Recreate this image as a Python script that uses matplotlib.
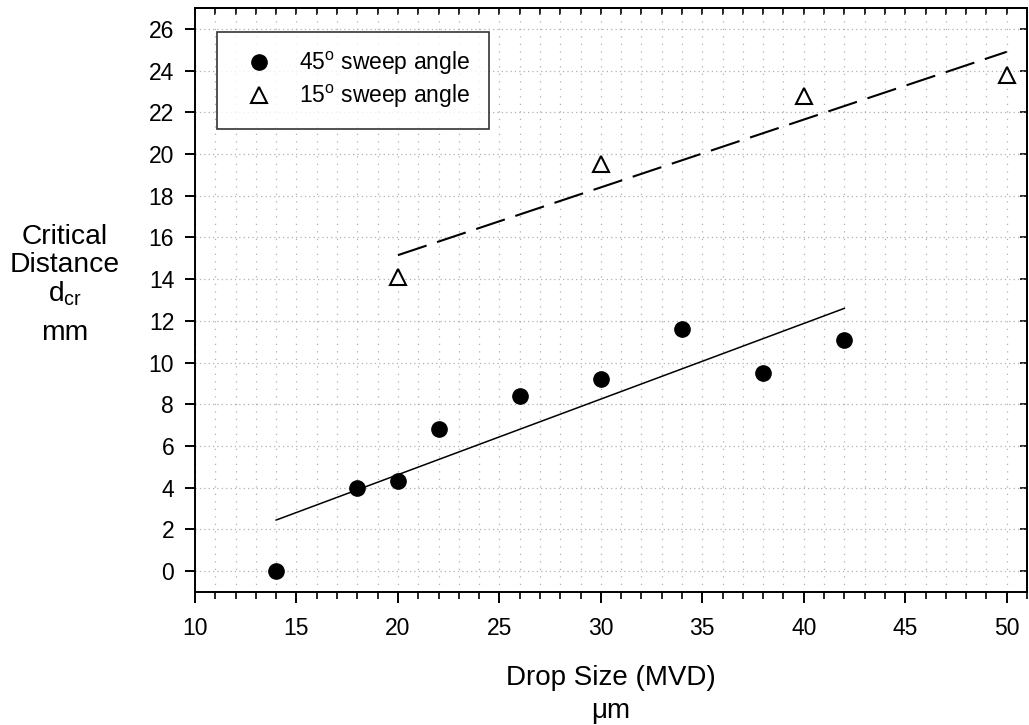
import matplotlib
matplotlib.use("Agg")
import matplotlib.pyplot as plt
from matplotlib.ticker import MultipleLocator

plt.rcParams["font.family"] = ["Liberation Sans", "DejaVu Sans"]
plt.rcParams["mathtext.fontset"] = "custom"
plt.rcParams["mathtext.rm"] = "Liberation Sans"

# 45 deg sweep angle data
drop_45 = [14, 18, 20, 22, 26, 30, 34, 38, 42]
dcr_45 = [0.0, 4.0, 4.3, 6.8, 8.4, 9.2, 11.6, 9.5, 11.1]
fit_45_x = [14, 42]
fit_45_y = [2.45, 12.6]

# 15 deg sweep angle data
drop_15 = [20, 30, 40, 50]
dcr_15 = [14.1, 19.5, 22.8, 23.8]
fit_15_x = [20, 50]
fit_15_y = [15.15, 24.9]

fig = plt.figure(figsize=(10.29, 7.25), dpi=100)
ax = fig.add_axes([195 / 1029, 1 - 592 / 725, 832 / 1029, 584 / 725])

ax.plot(fit_45_x, fit_45_y, color="black", lw=1.1, zorder=3)
ax.plot(fit_15_x, fit_15_y, color="black", lw=1.5,
        linestyle=(0, (14.5, 5.3)), zorder=3)
ax.plot(drop_45, dcr_45, "o", color="black", markersize=11,
        label="45$^{\\mathregular{o}}$ sweep angle", zorder=4)
ax.plot(drop_15, dcr_15, "^", markerfacecolor="white", markeredgecolor="black",
        markeredgewidth=1.5, markersize=11,
        label="15$^{\\mathregular{o}}$ sweep angle", zorder=4)

ax.set_xlim(10, 51)
ax.set_ylim(-1, 27)
ax.xaxis.set_major_locator(MultipleLocator(5))
ax.xaxis.set_minor_locator(MultipleLocator(1))
ax.yaxis.set_major_locator(MultipleLocator(2))

ax.xaxis.grid(True, which="both", color="#b0b0b0", lw=0.9, linestyle=(0, (1, 5)))
ax.yaxis.grid(True, which="major", color="#b0b0b0", lw=0.9, linestyle=(0, (1, 2.5)))
ax.set_axisbelow(True)

for sp in ax.spines.values():
    sp.set_linewidth(1.4)

ax.tick_params(axis="x", which="major", direction="out", length=8, width=1.4,
               labelsize=16.5, pad=10)
ax.tick_params(axis="x", which="minor", direction="out", length=5, width=1.2)
ax.tick_params(axis="y", which="major", direction="out", length=7, width=1.4,
               labelsize=16.5, pad=8)

top = ax.secondary_xaxis("top")
top.xaxis.set_major_locator(MultipleLocator(5))
top.xaxis.set_minor_locator(MultipleLocator(1))
top.tick_params(which="both", direction="in", length=5, width=1.2, labeltop=False)
top.spines["top"].set_linewidth(1.4)

right = ax.secondary_yaxis("right")
right.yaxis.set_major_locator(MultipleLocator(2))
right.tick_params(which="both", direction="in", length=5, width=1.2, labelright=False)
right.spines["right"].set_linewidth(1.4)

leg = ax.legend(loc="upper left", bbox_to_anchor=(0.026, 0.959), borderaxespad=0,
                fontsize=16.5, frameon=True, fancybox=False, edgecolor="black",
                handletextpad=0.7, borderpad=0.8, labelspacing=0.25,
                handlelength=2.1)
leg.get_frame().set_linewidth(1.2)

fig.text(611 / 1029, 1 - 685 / 725, "Drop Size (MVD)", ha="center",
         va="baseline", fontsize=20)
fig.text(611 / 1029, 1 - 718 / 725, "\u03bcm", ha="center", va="baseline",
         fontsize=20)

ylab_x = 65 / 1029
fig.text(ylab_x, 1 - 244 / 725, "Critical", ha="center", va="baseline", fontsize=20.3)
fig.text(ylab_x, 1 - 272 / 725, "Distance", ha="center", va="baseline", fontsize=20.3)
fig.text(ylab_x, 1 - 301 / 725, "d$_{\\mathregular{cr}}$", ha="center",
         va="baseline", fontsize=20.3)
fig.text(ylab_x, 1 - 340 / 725, "mm", ha="center", va="baseline", fontsize=20.3)

fig.savefig("out.png", dpi=100)
